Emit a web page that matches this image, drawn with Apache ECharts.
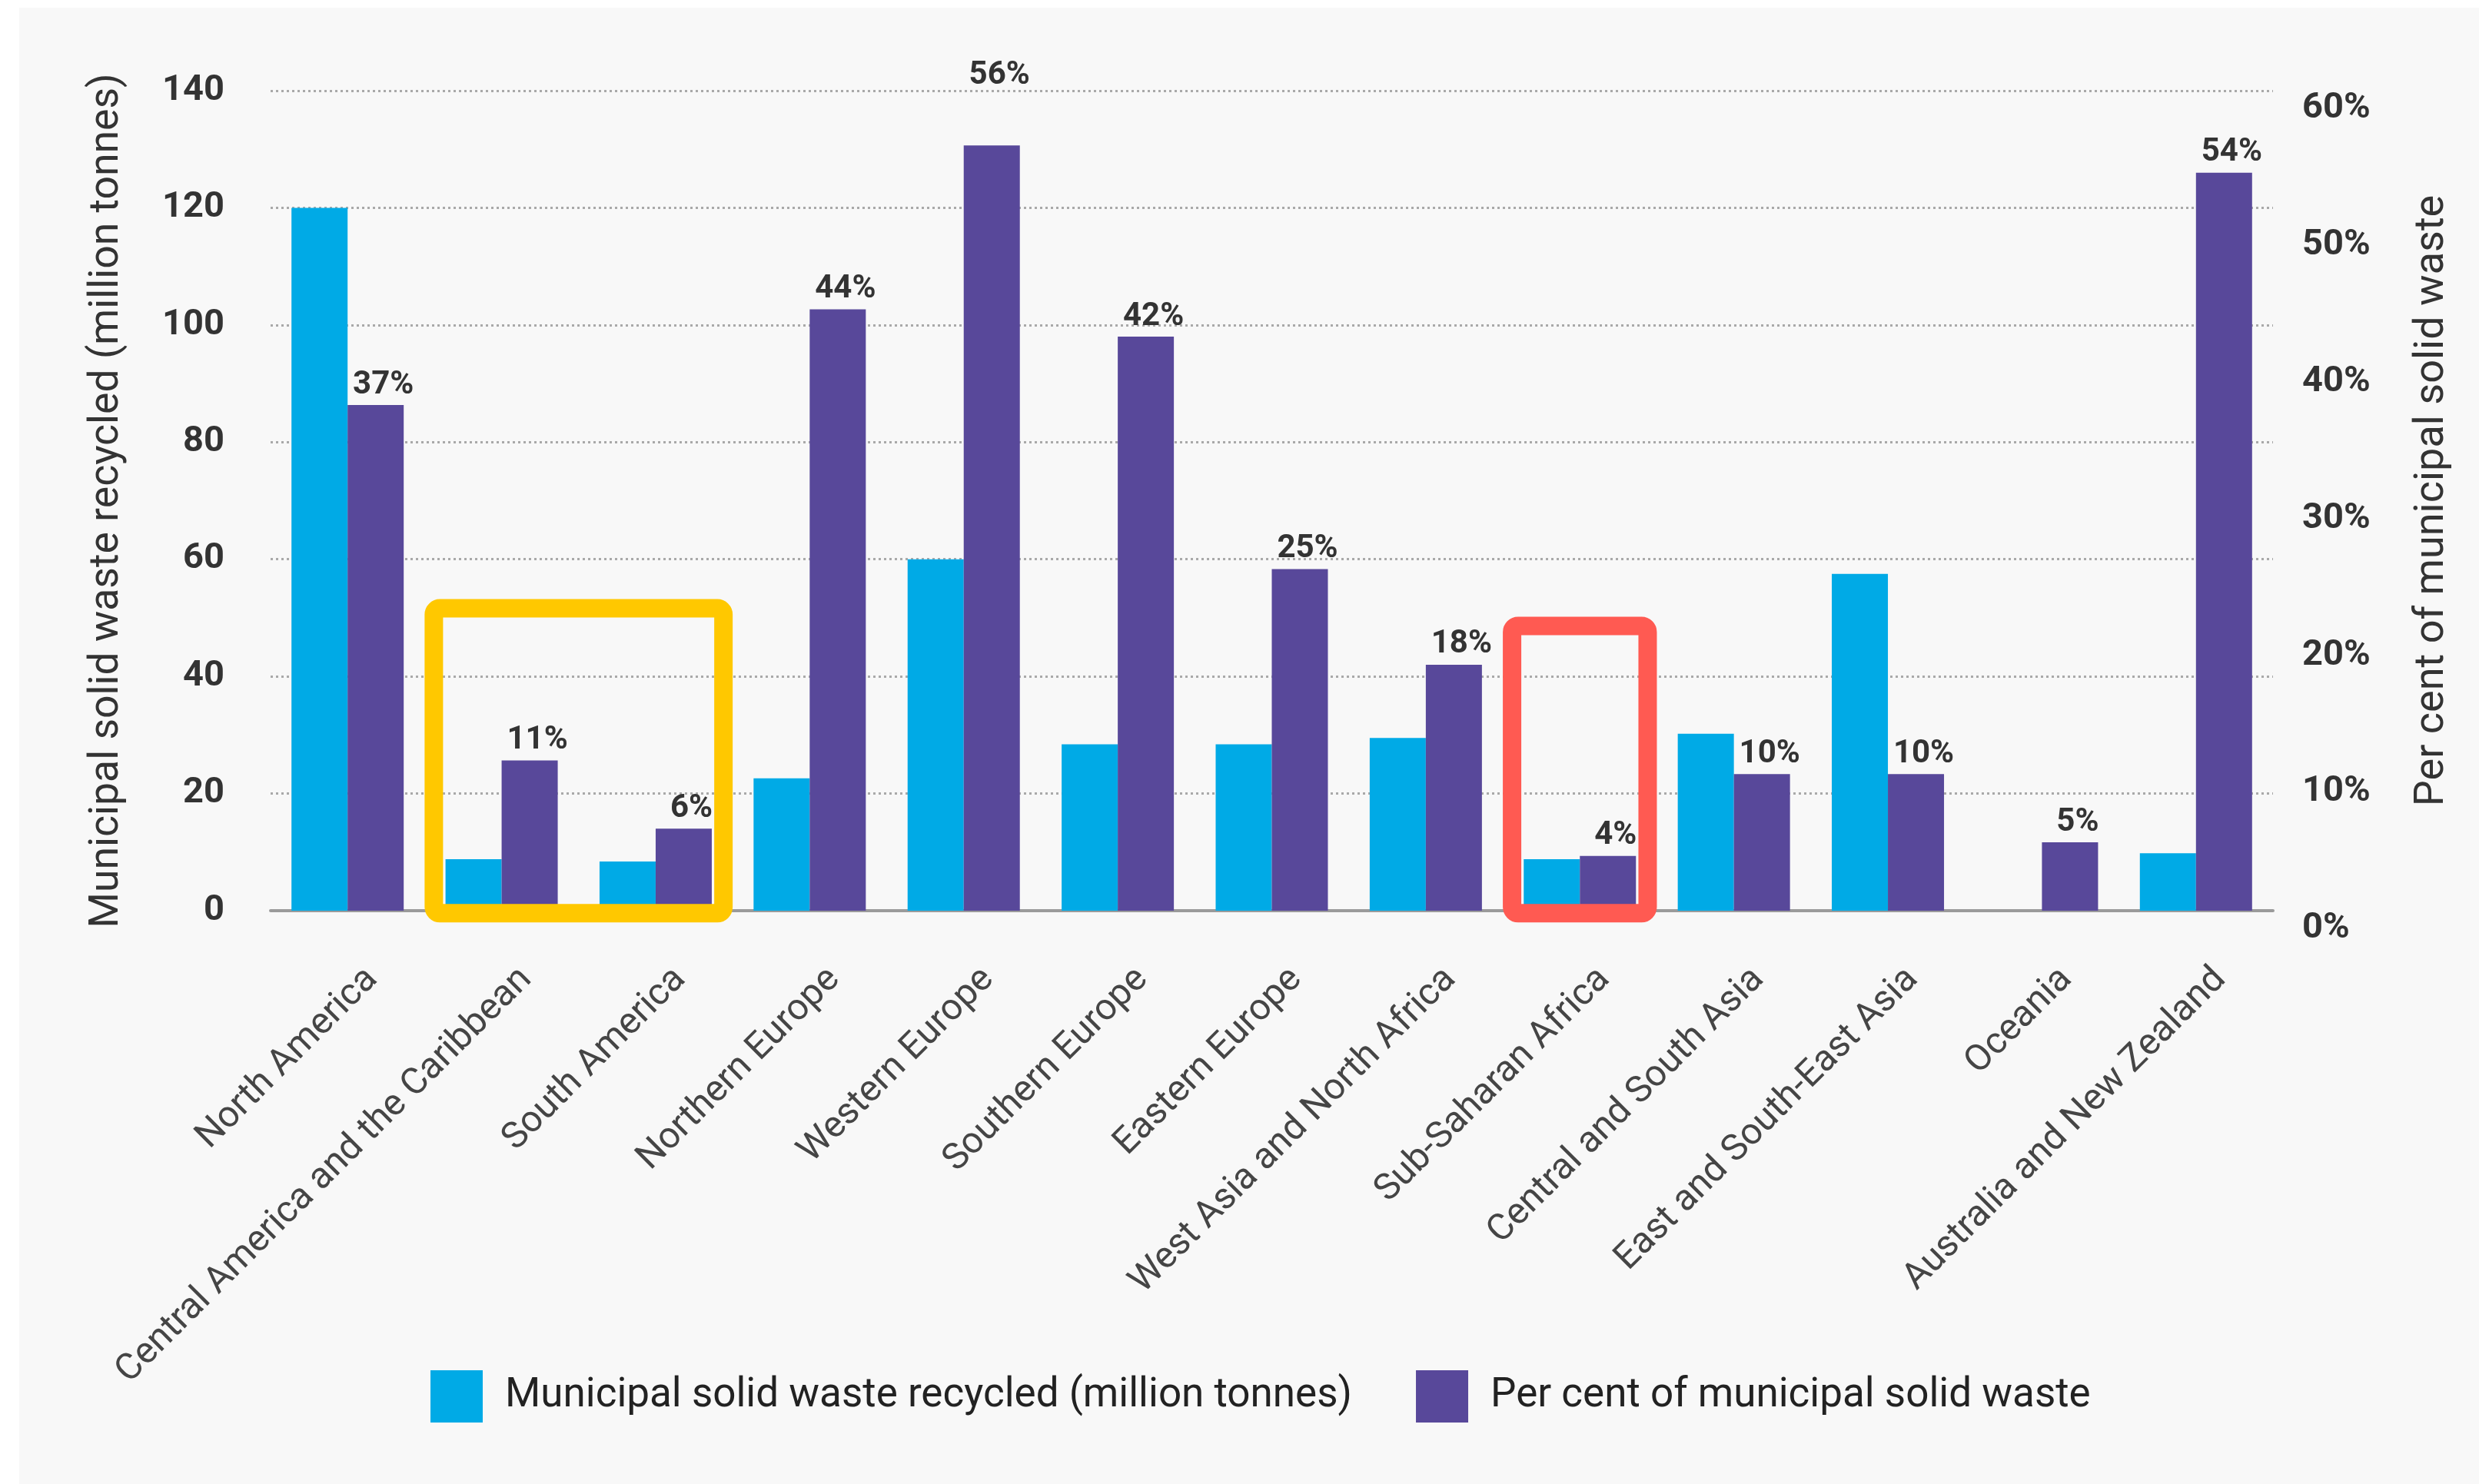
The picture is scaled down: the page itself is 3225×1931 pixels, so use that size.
<!DOCTYPE html>
<html>
<head>
<meta charset="utf-8">
<title>Municipal solid waste recycled by region</title>
<script src="https://cdn.jsdelivr.net/npm/echarts@6/dist/echarts.min.js"></script>
<style>
  html, body { margin: 0; padding: 0; background: #ffffff; }
  #chart { width: 3225px; height: 1931px; }
</style>
</head>
<body>
<div id="chart"></div>
<script>
// Regions on the category axis
const categories = [
  'North America',
  'Central America and the Caribbean',
  'South America',
  'Northern Europe',
  'Western Europe',
  'Southern Europe',
  'Eastern Europe',
  'West Asia and North Africa',
  'Sub-Saharan Africa',
  'Central and South Asia',
  'East and South-East Asia',
  'Oceania',
  'Australia and New Zealand'
];

// Municipal solid waste recycled, million tonnes (left axis)
const recycledMt = [120, 8.8, 8.4, 22.6, 60, 28.4, 28.4, 29.5, 8.8, 30.2, 57.5, null, 9.8];

// Recycled share of municipal solid waste, per cent (right axis)
const sharePct = [37, 11, 6, 44, 56, 42, 25, 18, 4, 10, 10, 5, 54];

// Axis ranges
const leftAxisRange = { min: 0, max: 140, interval: 20 };
const rightAxisRange = { min: 0, max: 60, interval: 10 };

// Highlight frames: category index span and top/bottom edge in million tonnes
const highlightFrames = [
  { from: 1, to: 2, top: 53.2, bottom: -2, color: '#FFC800' },
  { from: 8, to: 8, top: 50.2, bottom: -2, color: '#FF5A52' }
];

const seriesNames = [
  'Municipal solid waste recycled (million tonnes)',
  'Per cent of municipal solid waste'
];

const CYAN = '#00AAE6';
const PURPLE = '#58489A';
const FONT = 'Roboto, "Noto Sans", sans-serif';

// The tallest share label sits above the top grid line
const tallLabelDistance = 70;
const labelDistance = 5;
const tallestShare = Math.max.apply(null, sharePct);

const shareData = sharePct.map(function (v) {
  return v === tallestShare
    ? { value: v, label: { distance: tallLabelDistance } }
    : v;
});

const chart = echarts.init(document.getElementById('chart'), null, { renderer: 'canvas' });

const option = {
  backgroundColor: '#f8f8f8',
  animation: false,
  grid: { left: 352, right: 268, top: 118, bottom: 746, containLabel: false },
  legend: {
    left: 555,
    top: 1778,
    itemWidth: 68,
    itemHeight: 68,
    itemGap: 83,
    icon: 'rect',
    textStyle: { fontFamily: FONT, fontSize: 53, color: '#222', padding: [0, 0, 0, 24] },
    data: seriesNames
  },
  xAxis: {
    type: 'category',
    data: categories,
    axisTick: { show: false },
    axisLine: { show: true, lineStyle: { color: '#9b9b9b', width: 4 } },
    axisLabel: {
      interval: 0,
      rotate: 45,
      margin: 35,
      fontFamily: FONT,
      fontSize: 48,
      color: '#454545',
      verticalAlign: 'top',
      padding: [32, 11, 0, 0]
    }
  },
  yAxis: [
    {
      type: 'value',
      min: leftAxisRange.min,
      max: leftAxisRange.max,
      interval: leftAxisRange.interval,
      name: seriesNames[0],
      nameLocation: 'middle',
      nameRotate: 90,
      nameGap: 185,
      nameTextStyle: { fontFamily: FONT, fontSize: 53.5, color: '#333' },
      axisLine: { show: false },
      axisTick: { show: false },
      axisLabel: { margin: 60, fontFamily: FONT, fontSize: 47, fontWeight: 'bold', color: '#333' },
      splitLine: { show: true, lineStyle: { type: [3, 4], color: '#a9a9a9', width: 3 } }
    },
    {
      type: 'value',
      position: 'right',
      min: rightAxisRange.min,
      max: rightAxisRange.max,
      interval: rightAxisRange.interval,
      name: seriesNames[1],
      nameLocation: 'middle',
      nameRotate: 90,
      nameGap: 180,
      nameTextStyle: { fontFamily: FONT, fontSize: 54, color: '#333' },
      axisLine: { show: false },
      axisTick: { show: false },
      axisLabel: {
        margin: 38,
        fontFamily: FONT,
        fontSize: 47,
        fontWeight: 'bold',
        color: '#333',
        verticalAlign: 'top',
        formatter: '{value}%'
      },
      splitLine: { show: false }
    }
  ],
  series: [
    {
      name: seriesNames[0],
      type: 'bar',
      yAxisIndex: 0,
      data: recycledMt,
      barWidth: 73,
      barGap: '0%',
      itemStyle: { color: CYAN }
    },
    {
      name: seriesNames[1],
      type: 'bar',
      yAxisIndex: 1,
      data: shareData,
      barWidth: 73,
      barGap: '0%',
      itemStyle: { color: PURPLE },
      label: {
        show: true,
        position: 'top',
        distance: labelDistance,
        offset: [10, 0],
        formatter: '{c}%',
        fontFamily: FONT,
        fontSize: 42,
        fontWeight: 'bold',
        color: '#333'
      }
    }
  ]
};

chart.setOption(option);

// Frames around highlighted regions, placed through the chart's own scales
function drawFrames() {
  const c0 = chart.convertToPixel({ xAxisIndex: 0 }, 0);
  const c1 = chart.convertToPixel({ xAxisIndex: 0 }, 1);
  const band = c1 - c0;
  const stroke = 24;
  const elements = [
    { type: 'rect', z: -10, silent: true, shape: { x: 0, y: 0, width: 25, height: 1931 }, style: { fill: '#ffffff' } },
    { type: 'rect', z: -10, silent: true, shape: { x: 0, y: 0, width: 3225, height: 10 }, style: { fill: '#ffffff' } }
  ];
  highlightFrames.forEach(function (f) {
    const left = chart.convertToPixel({ xAxisIndex: 0 }, f.from) - band / 2;
    const right = chart.convertToPixel({ xAxisIndex: 0 }, f.to) + band / 2;
    const top = chart.convertToPixel({ yAxisIndex: 0 }, f.top);
    const bottom = chart.convertToPixel({ yAxisIndex: 0 }, f.bottom);
    elements.push({
      type: 'rect',
      z: 100,
      silent: true,
      shape: {
        x: left + stroke / 2,
        y: top + stroke / 2,
        width: right - left - stroke,
        height: bottom - top - stroke,
        r: 8
      },
      style: { fill: null, stroke: f.color, lineWidth: stroke }
    });
  });
  chart.setOption({ graphic: elements });
}
drawFrames();
</script>
</body>
</html>
